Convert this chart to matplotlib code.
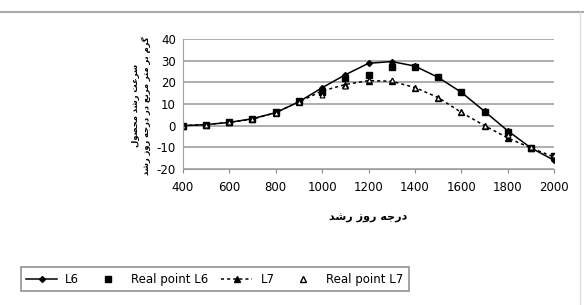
"""
L6 / L7 crop growth rate vs growing degree days
"""

import unicodedata
import matplotlib.pyplot as plt
from matplotlib.lines import Line2D

days = [400, 500, 600, 700, 800, 900, 1000, 1100, 1200, 1300, 1400, 1500, 1600, 1700, 1800, 1900, 2000]
l6 = [0, 0.5, 1.5, 3.2, 6, 11, 17.5, 23.5, 28.8, 29.6, 27.5, 22.3, 15.4, 6.6, -2.4, -10.3, -16]
real_l6 = [0, 0.3, 1.5, 3.0, 6.2, 11.5, 15.5, 22, 23.5, 27.3, 27.3, 22.3, 15.4, 6.3, -2.8, -10.3, -14]
l7 = [0, 0.5, 1.5, 3, 6, 11, 16, 19, 20.8, 20.5, 17.6, 13, 6.1, 0, -5.7, -10.3, -14.5]
real_l7 = [0, 0.5, 1.5, 3, 6, 11, 14, 18.5, 21, 21, 17.6, 13, 6.1, 0, -4.5, -10, -13.5]

yticks = [-20, -10, 0, 10, 20, 30, 40]
xticks = [400, 600, 800, 1000, 1200, 1400, 1600, 1800, 2000]

xlabel = "درجه روز رشد"
ylabel1 = "سرعت رشد محصول"
ylabel2 = "گرم بر متر مربع در درجه روز رشد"


# simple arabic shaping (no arabic_reshaper here)
forms = {}
for cp in range(0xFB50, 0xFEFF):
    d = unicodedata.decomposition(chr(cp)).split()
    if len(d) == 2 and d[0] in ("<isolated>", "<final>", "<initial>", "<medial>"):
        forms.setdefault(chr(int(d[1], 16)), {})[d[0][1:-1]] = chr(cp)


def shape(txt):
    out = []
    for i, c in enumerate(txt):
        if c not in forms:
            out.append(c)
            continue
        p = txt[i - 1] if i > 0 else " "
        n = txt[i + 1] if i + 1 < len(txt) else " "
        prev_j = p in forms and "initial" in forms[p]
        next_j = n in forms and "initial" in forms[c]
        f = forms[c]
        if prev_j and next_j:
            k = "medial"
        elif prev_j:
            k = "final"
        elif next_j:
            k = "initial"
        else:
            k = "isolated"
        out.append(f.get(k, f.get("isolated", c)))
    return "".join(out)[::-1]


plt.rcParams['font.family'] = ['DejaVu Sans']
plt.rcParams['axes.unicode_minus'] = False
fig = plt.figure(figsize=(5.84, 3.05), dpi=100)
ax = fig.add_axes([0.313, 0.446, 0.636, 0.426])

ax.plot(days, l6, 'k-', lw=1.1, marker='D', ms=3)
ax.plot(days, real_l6, 'ks', ls='none', ms=4.5)
ax.plot(days, l7, 'k', ls=(0, (2, 2)), lw=1.1, marker='^', ms=4.5)
ax.plot(days, real_l7, 'k^', ls='none', mfc='white', ms=3.5, mew=0.8)

ax.set_xlim(400, 2000)
ax.set_ylim(-20, 40)
ax.set_xticks(xticks)
ax.set_yticks(yticks)
ax.tick_params(labelsize=8.5, length=3, color='#888888')
ax.tick_params(axis='x', pad=6)
ax.tick_params(axis='y', length=0, pad=5)
ax.grid(axis='y', color='#a0a0a0', lw=1.2)
for s in ['top', 'right']:
    ax.spines[s].set_visible(False)
ax.spines['bottom'].set_color('#a0a0a0')
ax.spines['left'].set_color('#a0a0a0')

ax.set_xlabel(shape(xlabel), fontsize=8, fontweight='bold', labelpad=13)
fig.text(0.232, 0.655, shape(ylabel1), rotation=90, fontsize=6, fontweight='bold',
         ha='center', va='center')
fig.text(0.251, 0.655, shape(ylabel2), rotation=90, fontsize=6, fontweight='bold',
         ha='center', va='center')

handles = [
    Line2D([], [], color='k', lw=1.1, marker='D', ms=3),
    Line2D([], [], color='k', ls='none', marker='s', ms=4),
    Line2D([], [], color='k', ls=(0, (2, 2)), lw=1.1, marker='^', ms=4),
    Line2D([], [], color='k', ls='none', marker='^', mfc='white', ms=4),
]
leg = fig.legend(handles, ['L6', 'Real point L6', 'L7', 'Real point L7'], ncol=4,
                 loc='lower left', bbox_to_anchor=(0.036, 0.046), fontsize=8.5,
                 frameon=True, fancybox=False, edgecolor='#777777', handlelength=2.6,
                 columnspacing=1.1, handletextpad=0.7, borderpad=0.45, borderaxespad=0)
leg.get_frame().set_linewidth(1.2)

fig.add_artist(Line2D([0, 1], [0.962, 0.962], color='#aaaaaa', lw=1.5))
fig.add_artist(Line2D([0.993, 0.993], [0, 0.962], color='#dddddd', lw=1))

fig.savefig('out.png', dpi=100)
